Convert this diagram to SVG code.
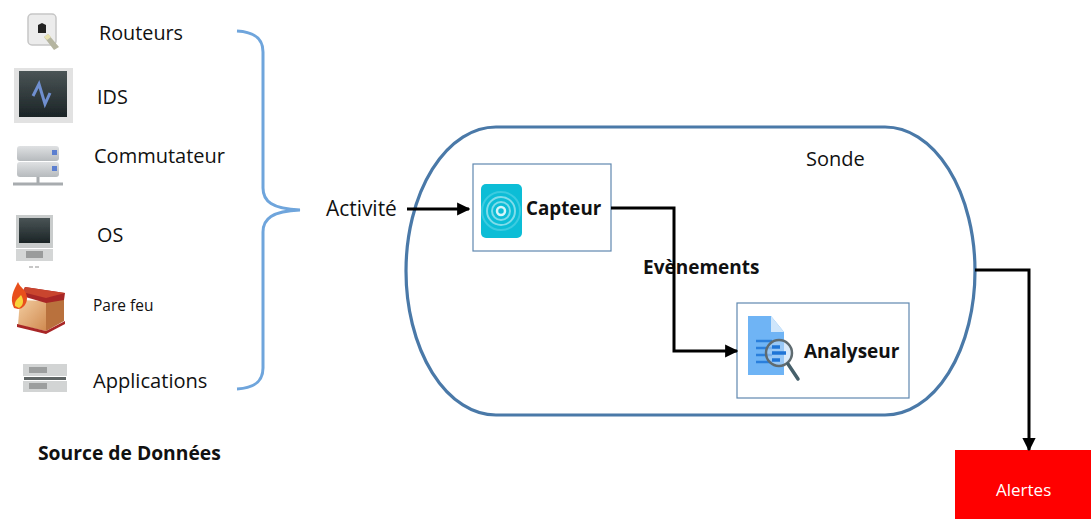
<svg xmlns="http://www.w3.org/2000/svg" width="1091" height="519" viewBox="0 0 1091 519">
<style>
text{font-family:"Open Sans","Noto Sans","Liberation Sans",sans-serif;fill:#111}
.b{font-weight:700}
.box{fill:#fff;stroke:#5f88b0;stroke-width:1.2}
.wire{fill:none;stroke:#000;stroke-width:3}
</style>
<defs>
<marker id="ah" viewBox="0 0 10 10" refX="9" refY="5" markerWidth="4.4" markerHeight="4.4" orient="auto"><path d="M0 0L10 5L0 10z" fill="#000"/></marker>
<filter id="bl" x="-10%" y="-10%" width="120%" height="120%"><feGaussianBlur stdDeviation="0.7"/></filter>
<linearGradient id="scr" x1="0" y1="0" x2="0" y2="1"><stop offset="0" stop-color="#4a5456"/><stop offset="1" stop-color="#1b2426"/></linearGradient>
<linearGradient id="srv" x1="0" y1="0" x2="0" y2="1"><stop offset="0" stop-color="#dfe1e3"/><stop offset="1" stop-color="#b6babd"/></linearGradient>
<linearGradient id="wood" x1="0" y1="0" x2="1" y2="1"><stop offset="0" stop-color="#f3cda0"/><stop offset="1" stop-color="#d08a50"/></linearGradient>
</defs>

<g id="sonde">
<rect x="406" y="127" width="569" height="288" rx="90" ry="144" fill="#fff" stroke="#4a79a8" stroke-width="3.2"/>
<text x="806" y="166" font-size="20">Sonde</text>
</g>

<g id="brace">
<path d="M237 31C254 32 263 38 263 52V188C263 201 272 209 300 210C272 211 263 219 263 232V368C263 382 254 388 237 389" fill="none" stroke="#6fa5dc" stroke-width="3"/>
</g>

<g id="routeurs">
<g filter="url(#bl)">
<rect x="28" y="14" width="28" height="31" rx="4" fill="#ececec" stroke="#c6c6c6" stroke-width="1.500"/>
<path d="M38 33V25L42 23L46 25V33z" fill="#222"/>
<path d="M44 37L48 34L59 47L54 50z" fill="#b5b5a0"/>
<path d="M44 37L48 34L51 37L47 40z" fill="#e8e2b0"/>
</g>
<text x="99" y="40" font-size="19.800">Routeurs</text>
</g>

<g id="ids">
<g filter="url(#bl)">
<rect x="14" y="68" width="59" height="55" fill="#e2e2e2"/>
<rect x="19" y="71" width="48" height="46" fill="url(#scr)"/>
<path d="M33 96L39 84L45 104L50 93" fill="none" stroke="#6f8fd0" stroke-width="3"/>
</g>
<text x="97" y="104" font-size="19.800">IDS</text>
</g>

<g id="commutateur">
<g filter="url(#bl)">
<rect x="17" y="146" width="42" height="15" rx="3" fill="url(#srv)"/>
<rect x="17" y="162" width="42" height="15" rx="3" fill="url(#srv)"/>
<rect x="52" y="150" width="5" height="5" fill="#5b7fd0"/>
<rect x="52" y="166" width="5" height="5" fill="#5b7fd0"/>
<path d="M38 177V185M13 184H63" stroke="#a8acaf" stroke-width="3" fill="none"/>
</g>
<text x="94" y="163" font-size="20">Commutateur</text>
</g>

<g id="os">
<g filter="url(#bl)">
<rect x="16" y="215" width="37" height="33" fill="#c9cccc"/>
<rect x="19" y="218" width="31" height="25" fill="url(#scr)"/>
<rect x="16" y="249" width="37" height="12" fill="#d4d6d6"/>
<rect x="26" y="251" width="17" height="7" fill="#9a9c9c"/>
<path d="M29 267H40" stroke="#b5b5b5" stroke-width="1.500" stroke-dasharray="4 2"/>
</g>
<text x="97" y="242" font-size="19.800">OS</text>
</g>

<g id="parefeu">
<g filter="url(#bl)">
<path d="M20 300L46 301V331L18 325z" fill="url(#wood)"/>
<path d="M46 301L64 297V321L46 331z" fill="#b9713d"/>
<path d="M25 287L65 293L64 300L46 303L22 296z" fill="#a82626"/>
<path d="M25 287L65 293L46 298L22 292z" fill="#c9452f"/>
<path d="M17 324L46 331L65 321V324L46 334L17 327z" fill="#a82626"/>
<path d="M14 308C9 298 14 290 18 282C20 288 27 290 27 298C27 304 23 309 18 309z" fill="#e8501c"/>
<path d="M15 306C14 300 19 298 21 295C24 300 24 305 19 308z" fill="#f7d43a"/>
</g>
<text x="93" y="311" font-size="15.500">Pare feu</text>
</g>

<g id="applications">
<g filter="url(#bl)">
<rect x="23" y="364" width="44" height="12" fill="#d2d4d4"/>
<rect x="23" y="381" width="44" height="11" fill="#d2d4d4"/>
<rect x="29" y="367" width="18" height="6" fill="#9c9e9e"/>
<rect x="29" y="383" width="18" height="6" fill="#9c9e9e"/>
<rect x="24" y="377" width="42" height="3" fill="#606666"/>
</g>
<text x="93" y="388" font-size="20.100">Applications</text>
</g>

<text x="38" y="460" class="b" font-size="19.300">Source de Données</text>

<g id="capteur">
<rect x="473" y="164" width="138" height="87" class="box"/>
<rect x="481" y="184" width="41" height="54" rx="5" fill="#0cbdd6"/>
<g fill="none" stroke="#7fdcea" stroke-width="2">
<circle cx="501" cy="211" r="19" stroke="#3bcbe0"/>
<circle cx="501" cy="211" r="14"/>
<circle cx="501" cy="211" r="9"/>
<circle cx="501" cy="211" r="4" stroke="#d6f5f9" stroke-width="2.500"/>
</g>
<text x="526" y="215" class="b" font-size="18.800">Capteur</text>
</g>

<g id="analyseur">
<rect x="737" y="303" width="172" height="95" class="box"/>
<path d="M748 316H771L784 332V375H748z" fill="#6fb4f5"/>
<path d="M771 316L784 332H771z" fill="#cfe6fb"/>
<path d="M756 341H772M756 348H772M756 355H772M756 362H772" stroke="#2a7fdc" stroke-width="2.500"/>
<circle cx="779" cy="353" r="13" fill="#bcd9f5" fill-opacity=".55" stroke="#5f6b70" stroke-width="2.500"/>
<path d="M772 347H780M772 353H786M772 360H780" stroke="#1f74d6" stroke-width="3.500"/>
<path d="M788 364L798 379" stroke="#46606b" stroke-width="3.500" stroke-linecap="round"/>
<text x="804" y="358" class="b" font-size="19">Analyseur</text>
</g>

<g id="alertes">
<rect x="955" y="450" width="136" height="69" fill="#ff0000"/>
<text x="996" y="496" font-size="17" style="fill:#fff">Alertes</text>
</g>

<text x="326" y="216" font-size="20.900">Activité</text>
<text x="643" y="274" class="b" font-size="19">Evènements</text>

<g id="connectors">
<path d="M407 209H469" class="wire" marker-end="url(#ah)"/>
<path d="M611 208H674V351H737" class="wire" marker-end="url(#ah)"/>
<path d="M975 270H1029V450" class="wire" marker-end="url(#ah)"/>
</g>
</svg>
